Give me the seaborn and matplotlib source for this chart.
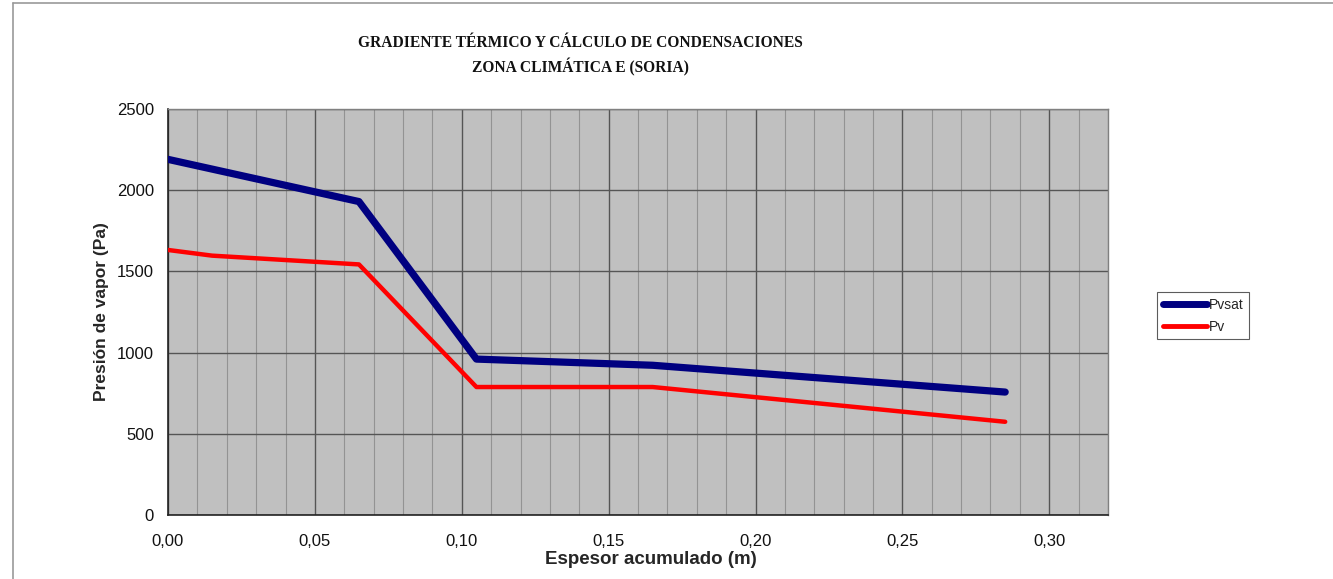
import numpy as np
import pandas as pd
import matplotlib
matplotlib.use("Agg")
import matplotlib.pyplot as plt
import seaborn as sns
from matplotlib.ticker import MultipleLocator
from matplotlib.lines import Line2D

# Data
espesor = [0.0, 0.015, 0.065, 0.105, 0.165, 0.285]
pvsat = [2190, 2130, 1930, 960, 922, 757]
pv = [1632, 1597, 1543, 788, 788, 574]

x_ticks = [0.00, 0.05, 0.10, 0.15, 0.20, 0.25, 0.30]
x_tick_labels = ["0,00", "0,05", "0,10", "0,15", "0,20", "0,25", "0,30"]
y_ticks = [0, 500, 1000, 1500, 2000, 2500]

title_lines = ["GRADIENTE TÉRMICO Y CÁLCULO DE CONDENSACIONES",
               "ZONA CLIMÁTICA E (SORIA)"]

sns.set_style("white")
plt.rcParams["font.family"] = ["Liberation Sans", "DejaVu Sans"]

W, H = 1333, 579
fig = plt.figure(figsize=(W / 100, H / 100), dpi=100)
ax = fig.add_axes([168 / W, 1 - 515 / H, (1108 - 168) / W, (515 - 109) / H])
ax.set_facecolor("#c0c0c0")

df = pd.DataFrame({"Espesor": espesor, "Pvsat": pvsat, "Pv": pv})

sns.lineplot(data=df, x="Espesor", y="Pvsat", ax=ax, color="#000080",
             linewidth=5.2, label="Pvsat", solid_capstyle="round", zorder=4)
sns.lineplot(data=df, x="Espesor", y="Pv", ax=ax, color="#ff0000",
             linewidth=3.2, label="Pv", solid_capstyle="round", zorder=3)

ax.set_xlim(0, 0.32)
ax.set_ylim(0, 2500)
ax.set_xticks(x_ticks)
ax.set_xticklabels(x_tick_labels)
ax.xaxis.set_minor_locator(MultipleLocator(0.01))
ax.set_yticks(y_ticks)

ax.grid(which="major", color="#555555", linewidth=1.0, zorder=1)
ax.grid(which="minor", axis="x", color="#939393", linewidth=0.8, zorder=1)
ax.set_axisbelow(True)

ax.tick_params(axis="both", which="major", direction="out", length=6,
               width=1, color="#333333", labelsize=12, labelcolor="#111111", pad=4)
ax.tick_params(axis="x", which="minor", direction="out", length=3,
               width=0.8, color="#333333")
ax.tick_params(axis="x", which="major", pad=8)

for side in ["left", "bottom"]:
    ax.spines[side].set_color("#222222")
    ax.spines[side].set_linewidth(1.2)
for side in ["top", "right"]:
    ax.spines[side].set_color("#808080")
    ax.spines[side].set_linewidth(1.0)

ax.set_xlabel("Espesor acumulado (m)", fontsize=13.5, fontweight="bold")
ax.xaxis.set_label_coords((651 - 168) / 940, -(559 - 515) / 406)
ax.xaxis.label.set_va("center")
ax.set_ylabel("Presión de vapor (Pa)", fontsize=12.5, fontweight="bold", labelpad=6)

ax.get_legend().remove()
handles = [Line2D([], [], color="#000080", linewidth=5, solid_capstyle="round"),
           Line2D([], [], color="#ff0000", linewidth=3.5, solid_capstyle="round")]
leg = fig.legend(handles, ["Pvsat", "Pv"], loc="upper left",
                 bbox_to_anchor=(1157 / W, 1 - 292 / H), fontsize=10,
                 frameon=True, fancybox=False, edgecolor="#333333",
                 handlelength=3.2, handletextpad=0.1, borderpad=0.4,
                 labelspacing=0.6, borderaxespad=0)
leg.get_frame().set_linewidth(0.8)

for i, line in enumerate(title_lines):
    fig.text(580 / W, 1 - (43 + 24 * i) / H, line, ha="center", va="center",
             fontsize=11.2, fontweight="bold", family="Liberation Serif",
             color="#111111")

# outer chart frame
fig.add_artist(Line2D([13 / W, 13 / W], [0, 1 - 3 / H], transform=fig.transFigure,
                      color="#999999", linewidth=1.2))
fig.add_artist(Line2D([13 / W, 1], [1 - 3 / H, 1 - 3 / H], transform=fig.transFigure,
                      color="#999999", linewidth=1.2))

fig.savefig("out.png", dpi=100)
